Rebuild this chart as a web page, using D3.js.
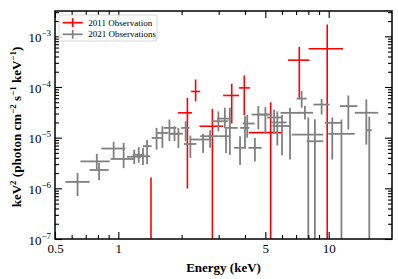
<!DOCTYPE html>
<html>
<head>
<meta charset="utf-8">
<script src="https://cdn.jsdelivr.net/npm/d3@7"></script>
<style>
  body { margin: 0; background: #fff; }
  svg text { font-family: "Liberation Serif", "DejaVu Serif", serif; }
</style>
</head>
<body>
<div id="chart"></div>
<script>
// each row: [energy, energyLo, energyHi, flux, fluxLo, fluxHi]
var obs2011 = [
  [1.43, 1.33, 1.55, 5e-8, 1e-9, 1.63e-6],
  [2.13, 1.92, 2.24, 3.09e-5, 9.9e-7, 6.1e-5],
  [2.33, 2.22, 2.45, 8.15e-5, 5.2e-5, 1.41e-4],
  [2.80, 2.43, 3.15, 1.68e-5, 1e-9, 3.71e-5],
  [3.46, 3.15, 3.75, 6.8e-5, 1.9e-5, 1.16e-4],
  [3.97, 3.75, 4.22, 9.6e-5, 2.77e-5, 1.69e-4],
  [5.30, 4.17, 6.0, 1.26e-5, 1e-9, 5.0e-5],
  [7.25, 6.41, 8.1, 3.39e-4, 5.9e-5, 6.2e-4],
  [9.84, 8.03, 11.7, 5.7e-4, 1e-9, 1.72e-3]
];

var obs2021 = [
  [0.64, 0.56, 0.73, 1.34e-6, 7.0e-7, 2.0e-6],
  [0.79, 0.66, 0.91, 3.4e-6, 2.4e-6, 4.8e-6],
  [0.81, 0.73, 0.90, 2.3e-6, 1.45e-6, 3.2e-6],
  [0.95, 0.83, 1.08, 6.1e-6, 3.7e-6, 8.3e-6],
  [1.06, 0.92, 1.20, 3.8e-6, 2.5e-6, 7.9e-6],
  [1.19, 1.10, 1.28, 4.2e-6, 3.0e-6, 5.8e-6],
  [1.25, 1.17, 1.33, 4.6e-6, 3.2e-6, 6.5e-6],
  [1.31, 1.22, 1.42, 4.3e-6, 2.9e-6, 6.3e-6],
  [1.37, 1.31, 1.44, 6.8e-6, 3.0e-6, 9.0e-6],
  [1.52, 1.44, 1.61, 9.9e-6, 5.8e-6, 1.56e-5],
  [1.62, 1.52, 1.73, 1.24e-5, 6.3e-6, 1.68e-5],
  [1.75, 1.64, 1.89, 1.56e-5, 8.5e-6, 2.28e-5],
  [1.85, 1.76, 1.96, 1.19e-5, 8.5e-6, 1.68e-5],
  [1.93, 1.78, 2.03, 1.2e-5, 6.3e-6, 1.56e-5],
  [2.09, 1.99, 2.18, 1.56e-5, 8.5e-6, 2.11e-5],
  [2.20, 2.05, 2.35, 7.5e-6, 4.0e-6, 1.1e-5],
  [2.53, 2.19, 2.76, 9.2e-6, 5.0e-6, 1.19e-5],
  [2.73, 2.45, 3.0, 1.07e-5, 6.3e-6, 1.4e-5],
  [2.99, 2.78, 3.33, 2.11e-5, 1.34e-5, 3.3e-5],
  [3.21, 2.95, 3.45, 2.38e-5, 1.56e-5, 3.9e-5],
  [3.25, 3.0, 3.4, 1.07e-5, 5e-6, 1.5e-5],
  [3.39, 3.2, 3.7, 1.56e-5, 4.6e-6, 3.9e-5],
  [3.79, 3.55, 4.05, 6.3e-6, 2.9e-6, 1.07e-5],
  [4.0, 3.8, 4.2, 1.56e-5, 6.3e-6, 2.65e-5],
  [4.1, 3.9, 4.45, 1.9e-5, 1.0e-5, 2.8e-5],
  [4.46, 4.15, 4.8, 6.3e-6, 3.4e-6, 9.9e-6],
  [4.63, 4.3, 5.16, 2.86e-5, 1.45e-5, 4.2e-5],
  [5.0, 4.6, 5.4, 2.86e-5, 1.2e-5, 4.0e-5],
  [5.5, 5.1, 6.0, 2.5e-5, 1.2e-5, 3.6e-5],
  [5.7, 5.3, 6.3, 2.0e-5, 7e-6, 3.3e-5],
  [6.0, 5.4, 6.6, 1.7e-5, 4.5e-6, 2.8e-5],
  [6.55, 5.9, 7.3, 3.09e-5, 3.7e-6, 3.9e-5],
  [7.44, 7.04, 7.86, 5.9e-5, 3.9e-5, 8.3e-5],
  [7.71, 7.16, 8.44, 3.1e-5, 2.28e-5, 4.2e-5],
  [8.0, 6.67, 9.42, 1.15e-5, 1e-9, 2.5e-5],
  [8.6, 7.86, 9.42, 8.5e-6, 1e-9, 2.3e-5],
  [9.26, 8.45, 10.1, 4.5e-5, 2.86e-5, 5.8e-5],
  [10.4, 9.6, 11.5, 1.96e-5, 3.7e-6, 2.5e-5],
  [11.5, 9.96, 13.3, 1.19e-5, 1e-9, 2.28e-5],
  [12.4, 11.3, 13.7, 4.2e-5, 1.45e-5, 6.8e-5],
  [15.1, 13.3, 17.2, 3.1e-5, 7.3e-6, 5.7e-5],
  [15.6, 15.1, 16.0, 1.4e-5, 1e-9, 2.6e-5]
];

var xMajor = [0.5, 1, 5, 10];
var xMinor = [0.6, 0.7, 0.8, 0.9, 2, 3, 4, 6, 7, 8, 9];
var yMajorExp = [-7, -6, -5, -4, -3];
var seriesNames = ["2011 Observation", "2021 Observations"];
var seriesColors = ["#ff0000", "#808080"];

var W = 399, H = 279;
var margin = {top: 11, right: 7, bottom: 40, left: 55};
var pw = W - margin.left - margin.right,
    ph = H - margin.top - margin.bottom;

var svg = d3.select("#chart").append("svg")
  .attr("width", W)
  .attr("height", H);

var x = d3.scaleLog().domain([0.5, 20]).range([0, pw]);
var y = d3.scaleLog().domain([1e-7, Math.pow(10, -2.5)]).range([ph, 0]);

var g = svg.append("g")
  .attr("transform", "translate(" + margin.left + "," + margin.top + ")");

g.append("clipPath").attr("id", "clip")
  .append("rect").attr("width", pw).attr("height", ph);

var plot = g.append("g").attr("clip-path", "url(#clip)");

function drawSeries(data, color, width) {
  var s = plot.append("g");
  s.selectAll("line.h").data(data).enter().append("line")
    .attr("x1", function(d){ return x(d[1]); })
    .attr("x2", function(d){ return x(d[2]); })
    .attr("y1", function(d){ return y(d[3]); })
    .attr("y2", function(d){ return y(d[3]); })
    .style("stroke", color).style("stroke-width", width);
  s.selectAll("line.v").data(data).enter().append("line")
    .attr("x1", function(d){ return x(d[0]); })
    .attr("x2", function(d){ return x(d[0]); })
    .attr("y1", function(d){ return y(d[4]); })
    .attr("y2", function(d){ return y(d[5]); })
    .style("stroke", color).style("stroke-width", width);
}

drawSeries(obs2011, seriesColors[0], 1.6);
drawSeries(obs2021, seriesColors[1], 1.8);

// axes: ticks pointing inward on all four sides
var yMinor = [];
yMajorExp.forEach(function(e){
  for (var k = 2; k <= 9; k++) {
    var v = k * Math.pow(10, e);
    if (v <= Math.pow(10, -2.5)) yMinor.push(v);
  }
});
var yMajor = yMajorExp.map(function(e){ return Math.pow(10, e); });

function styleAxis(sel) {
  sel.select(".domain").remove();
  sel.selectAll("line").style("stroke", "#000").style("stroke-width", 1.1);
}

var fmtX = function(d){ return d < 1 ? "0.5" : String(d); };

g.append("g").attr("transform", "translate(0," + ph + ")")
  .call(d3.axisBottom(x).tickValues(xMajor).tickSize(-7).tickPadding(5).tickFormat(fmtX))
  .call(styleAxis)
  .selectAll("text").style("font-size", "13px").style("fill", "#000")
  .style("font-family", "Liberation Serif, serif");
g.append("g").attr("transform", "translate(0," + ph + ")")
  .call(d3.axisBottom(x).tickValues(xMinor).tickSize(-4).tickFormat(""))
  .call(styleAxis);
g.append("g")
  .call(d3.axisTop(x).tickValues(xMajor).tickSize(-7).tickFormat(""))
  .call(styleAxis);
g.append("g")
  .call(d3.axisTop(x).tickValues(xMinor).tickSize(-4).tickFormat(""))
  .call(styleAxis);

var yAxisG = g.append("g")
  .call(d3.axisLeft(y).tickValues(yMajor).tickSize(-7).tickFormat(""))
  .call(styleAxis);
yAxisG.selectAll(".tick").append("text")
  .attr("x", -4).attr("dy", "0.4em")
  .attr("text-anchor", "end")
  .style("font-size", "13px").style("fill", "#000")
  .each(function(d){
    var t = d3.select(this);
    var e = Math.round(Math.log10(d));
    t.append("tspan").text("10");
    t.append("tspan").attr("dy", -6).style("font-size", "9px").text("\u2212" + Math.abs(e));
  });
g.append("g")
  .call(d3.axisLeft(y).tickValues(yMinor).tickSize(-4).tickFormat(""))
  .call(styleAxis);
g.append("g").attr("transform", "translate(" + pw + ",0)")
  .call(d3.axisRight(y).tickValues(yMajor).tickSize(-7).tickFormat(""))
  .call(styleAxis);
g.append("g").attr("transform", "translate(" + pw + ",0)")
  .call(d3.axisRight(y).tickValues(yMinor).tickSize(-4).tickFormat(""))
  .call(styleAxis);

// frame
g.append("rect").attr("width", pw).attr("height", ph)
  .style("fill", "none").style("stroke", "#000").style("stroke-width", 1.5);

// axis titles
svg.append("text")
  .attr("x", margin.left + pw / 2).attr("y", 272)
  .attr("text-anchor", "middle")
  .style("font-size", "13px").style("font-weight", "bold")
  .text("Energy (keV)");

var yt = svg.append("text")
  .attr("transform", "translate(21," + (margin.top + ph / 2 + 2) + ") rotate(-90)")
  .attr("text-anchor", "middle")
  .style("font-size", "13px").style("font-weight", "bold");
yt.append("tspan").text("keV");
yt.append("tspan").attr("dy", -5).style("font-size", "9px").text("2");
yt.append("tspan").attr("dy", 5).text(" (photon cm");
yt.append("tspan").attr("dy", -5).style("font-size", "9px").text("\u22122");
yt.append("tspan").attr("dy", 5).text(" s");
yt.append("tspan").attr("dy", -5).style("font-size", "9px").text("\u22121");
yt.append("tspan").attr("dy", 5).text(" keV");
yt.append("tspan").attr("dy", -5).style("font-size", "9px").text("\u22121");
yt.append("tspan").attr("dy", 5).text(")");

// legend
var lg = g.append("g").attr("transform", "translate(4,4)");
lg.append("rect").attr("width", 98).attr("height", 26).attr("rx", 2)
  .style("fill", "#fff").style("fill-opacity", 0.8)
  .style("stroke", "#d0d0d0").style("stroke-width", 0.8);
seriesNames.forEach(function(name, i){
  var ly = 7.7 + i * 11.6;
  var row = lg.append("g").attr("transform", "translate(0," + ly + ")");
  row.append("line").attr("x1", 3.7).attr("x2", 23.7).attr("y1", 0).attr("y2", 0)
    .style("stroke", seriesColors[i]).style("stroke-width", 1.7);
  row.append("line").attr("x1", 13.7).attr("x2", 13.7).attr("y1", -4.5).attr("y2", 4.5)
    .style("stroke", seriesColors[i]).style("stroke-width", 1.7);
  row.append("text").attr("x", 29.3).attr("y", 0).attr("dy", "0.33em")
    .style("font-size", "9px").text(name);
});
</script>
</body>
</html>
